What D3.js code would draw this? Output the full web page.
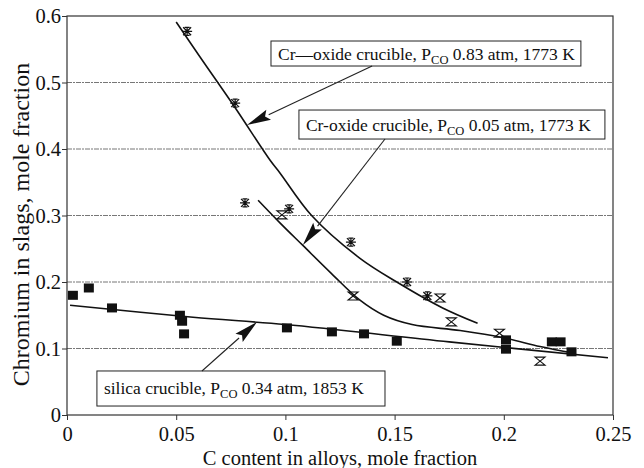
<!DOCTYPE html>
<html>
<head>
<meta charset="utf-8">
<script src="https://cdn.jsdelivr.net/npm/d3@7"></script>
<style>
  body { margin: 0; background: #fff; }
  text { font-family: 'Liberation Serif', 'Times New Roman', serif; fill: #111; }
</style>
</head>
<body>
<div id="chart"></div>
<script>
const margin = { top: 16, left: 67, right: 31, bottom: 53 }
const width = 644 - margin.left - margin.right
const height = 468 - margin.top - margin.bottom

// measured points, [C content, Cr in slag]
const silicaPts = [
  [0.0027, 0.180], [0.010, 0.191], [0.0206, 0.161], [0.0517, 0.150], [0.0527, 0.141],
  [0.0536, 0.122], [0.1007, 0.131], [0.1213, 0.125], [0.136, 0.122], [0.151, 0.111],
  [0.201, 0.113], [0.201, 0.099], [0.222, 0.110], [0.226, 0.110], [0.231, 0.095]
]
const cr083Pts = [
  [0.055, 0.577], [0.077, 0.469], [0.0815, 0.319], [0.1017, 0.310],
  [0.130, 0.260], [0.1557, 0.200], [0.165, 0.179]
]
const cr005Pts = [
  [0.0984, 0.301], [0.131, 0.179], [0.1708, 0.176], [0.176, 0.140],
  [0.198, 0.123], [0.2166, 0.081]
]

// fitted curves
const cr083Curve = [
  [0.050, 0.591], [0.061, 0.538], [0.077, 0.462], [0.093, 0.383], [0.0975, 0.364],
  [0.112, 0.300], [0.134, 0.236], [0.151, 0.200], [0.172, 0.161], [0.188, 0.138]
]
const cr005Curve = [
  [0.0875, 0.323], [0.0975, 0.289], [0.108, 0.255], [0.121, 0.213], [0.134, 0.173],
  [0.145, 0.150], [0.158, 0.136], [0.180, 0.127], [0.200, 0.116], [0.2166, 0.103], [0.232, 0.093]
]
const silicaCurve = [
  [0.0014, 0.165], [0.0577, 0.147], [0.100, 0.136], [0.175, 0.110], [0.2477, 0.086]
]

const xTicks = [0, 0.05, 0.1, 0.15, 0.2, 0.25]
const yTicks = [0, 0.1, 0.2, 0.3, 0.4, 0.5, 0.6]

// annotation boxes: [x0, x1, yTop, yBottom], arrow [from, tip]
const notes = [
  { label: ['Cr\u2014oxide crucible, P', 'CO', ' 0.83 atm, 1773 K'], box: [0.0934, 0.2353, 0.5624, 0.5248],
    arrow: [[0.1397, 0.5248], [0.0824, 0.436]] },
  { label: ['Cr-oxide crucible, P', 'CO', ' 0.05 atm, 1773 K'], box: [0.1062, 0.2463, 0.4586, 0.415],
    arrow: [[0.1456, 0.415], [0.108, 0.2556]] },
  { label: ['silica crucible, P', 'CO', ' 0.34 atm, 1853 K'], box: [0.0137, 0.1456, 0.0662, 0.0135],
    arrow: [[0.0618, 0.0662], [0.087, 0.1398]] }
]

const svg = d3.select('#chart').append('svg')
  .attr('width', 644).attr('height', 468)
  .append('g')
  .attr('transform', `translate(${margin.left},${margin.top})`)

const x = d3.scaleLinear().domain([0, 0.25]).range([0, width])
const y = d3.scaleLinear().domain([0, 0.6]).range([height, 0])

// grid
svg.selectAll('.grid').data(yTicks.slice(1, 6)).enter().append('line')
  .attr('x1', 0).attr('x2', width)
  .attr('y1', d => y(d)).attr('y2', d => y(d))
  .attr('stroke', '#777').attr('stroke-width', 1)
  .attr('stroke-dasharray', '5 1 2 1')

// frame
svg.append('rect').attr('width', width).attr('height', height)
  .attr('fill', 'none').attr('stroke', '#333').attr('stroke-width', 1.2)

const xAxis = svg.append('g').attr('transform', `translate(0,${height})`)
  .call(d3.axisBottom(x).tickValues(xTicks).tickFormat(d3.format('')).tickSize(5).tickPadding(6))
const yAxis = svg.append('g')
  .call(d3.axisLeft(y).tickValues(yTicks).tickFormat(d3.format('')).tickSize(5).tickPadding(1))
;[xAxis, yAxis].forEach(a => {
  a.select('.domain').remove()
  a.selectAll('line').attr('stroke', '#333')
  a.selectAll('text').style('font-family', "'Liberation Serif', serif").style('font-size', '20.5px').attr('fill', '#111')
})

svg.append('text').attr('x', width / 2).attr('y', height + 50)
  .attr('text-anchor', 'middle').style('font-size', '20.5px')
  .text('C content in alloys, mole fraction')
svg.append('text')
  .attr('transform', `translate(${-38},${height / 2 + 9}) rotate(-90)`)
  .attr('text-anchor', 'middle').style('font-size', '24px')
  .text('Chromium in slags, mole fraction')

// curves
const line = d3.line().x(d => x(d[0])).y(d => y(d[1])).curve(d3.curveCatmullRom)
;[cr083Curve, cr005Curve, silicaCurve].forEach(c => {
  svg.append('path').attr('d', line(c)).attr('fill', 'none')
    .attr('stroke', '#111').attr('stroke-width', 1.6)
})

// markers
svg.selectAll('.sq').data(silicaPts).enter().append('rect')
  .attr('x', d => x(d[0]) - 5).attr('y', d => y(d[1]) - 4.5)
  .attr('width', 10).attr('height', 9).attr('fill', '#111')

svg.selectAll('.ast').data(cr083Pts).enter().append('path')
  .attr('transform', d => `translate(${x(d[0])},${y(d[1])})`)
  .attr('d', 'M-5,0H5M-4,-4L4,4M-4,4L4,-4M-2.5,-4H2.5M-2.5,4H2.5M0,-4V4')
  .attr('stroke', '#111').attr('stroke-width', 1.2).attr('fill', 'none')

svg.selectAll('.hg').data(cr005Pts).enter().append('path')
  .attr('transform', d => `translate(${x(d[0])},${y(d[1])})`)
  .attr('d', 'M-5,-4H5L-5,4H5Z')
  .attr('stroke', '#111').attr('stroke-width', 1.1).attr('fill', 'none')

// annotations
notes.forEach(n => {
  const [x0, x1, yt, yb] = n.box
  svg.append('rect')
    .attr('x', x(x0)).attr('y', y(yt))
    .attr('width', x(x1) - x(x0)).attr('height', y(yb) - y(yt))
    .attr('fill', '#fff').attr('stroke', '#222').attr('stroke-width', 1)
  const t = svg.append('text')
    .attr('x', x(x0) + 7).attr('y', (y(yt) + y(yb)) / 2 + 6)
    .style('font-size', '17.5px')
  t.append('tspan').text(n.label[0])
  t.append('tspan').attr('dy', 4).style('font-size', '12.5px').text(n.label[1])
  t.append('tspan').attr('dy', -4).text(n.label[2])

  const [p0, p1] = n.arrow
  const ax = x(p0[0]), ay = y(p0[1]), bx = x(p1[0]), by = y(p1[1])
  const len = Math.hypot(bx - ax, by - ay)
  const ux = (bx - ax) / len, uy = (by - ay) / len
  const hl = 24, hw = 5.5
  const cx = bx - ux * hl, cy = by - uy * hl
  svg.append('line').attr('x1', ax).attr('y1', ay).attr('x2', cx).attr('y2', cy)
    .attr('stroke', '#222').attr('stroke-width', 1.1)
  svg.append('path')
    .attr('d', `M${bx},${by}L${cx - uy * hw},${cy + ux * hw}L${cx + ux * 4},${cy + uy * 4}L${cx + uy * hw},${cy - ux * hw}Z`)
    .attr('fill', '#111')
})
</script>
</body>
</html>
